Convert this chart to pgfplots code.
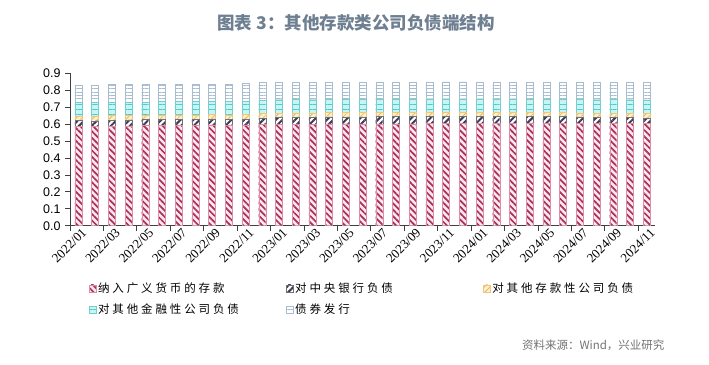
\documentclass[border=0pt]{standalone}
\usepackage{pgfplots}
\pgfplotsset{compat=1.18}
\usepackage{pgfplotstable}
\usepackage{fontspec}
\usetikzlibrary{patterns.meta}
\setmainfont{Liberation Sans}
\newfontfamily\cjk{Noto Sans CJK SC}
\newfontfamily\cjkleg[LetterSpace=25]{Noto Sans CJK SC}
\newfontfamily\timesf{Liberation Serif}
\definecolor{redS}{HTML}{A8325A}
\definecolor{redF}{HTML}{FCE8EE}
\definecolor{redE}{HTML}{E08CA8}
\definecolor{navS}{HTML}{3C3C50}
\definecolor{navE}{HTML}{707080}
\definecolor{yelS}{HTML}{E8B860}
\definecolor{yelF}{HTML}{FDF0CC}
\definecolor{yelE}{HTML}{EEC878}
\definecolor{cyaS}{HTML}{50C8C8}
\definecolor{cyaF}{HTML}{C8F4F4}
\definecolor{cyaE}{HTML}{70D0D0}
\definecolor{bonS}{HTML}{A8BCD0}
\definecolor{titleC}{HTML}{6E7F91}
\pgfplotstableread{
idx red navy yel cyan bond
0 0.588 0.034 0.027 0.080 0.103
1 0.585 0.035 0.027 0.080 0.105
2 0.590 0.034 0.026 0.079 0.104
3 0.590 0.035 0.026 0.080 0.103
4 0.592 0.034 0.026 0.078 0.103
5 0.593 0.035 0.027 0.080 0.102
6 0.593 0.036 0.026 0.080 0.103
7 0.594 0.035 0.026 0.080 0.102
8 0.595 0.036 0.027 0.079 0.101
9 0.594 0.035 0.026 0.079 0.102
10 0.595 0.036 0.026 0.080 0.102
11 0.597 0.037 0.028 0.080 0.103
12 0.598 0.040 0.027 0.079 0.102
13 0.600 0.041 0.026 0.079 0.101
14 0.600 0.040 0.026 0.078 0.101
15 0.601 0.041 0.026 0.078 0.102
16 0.602 0.041 0.025 0.078 0.101
17 0.601 0.042 0.026 0.078 0.100
18 0.602 0.042 0.025 0.077 0.100
19 0.601 0.043 0.026 0.077 0.100
20 0.602 0.044 0.025 0.077 0.099
21 0.603 0.044 0.025 0.078 0.098
22 0.603 0.044 0.025 0.078 0.099
23 0.604 0.043 0.025 0.078 0.099
24 0.605 0.042 0.025 0.078 0.098
25 0.603 0.043 0.025 0.078 0.099
26 0.604 0.042 0.025 0.079 0.098
27 0.603 0.042 0.024 0.079 0.099
28 0.604 0.040 0.024 0.078 0.099
29 0.605 0.039 0.025 0.079 0.099
30 0.605 0.037 0.025 0.079 0.100
31 0.604 0.036 0.024 0.080 0.101
32 0.604 0.035 0.025 0.081 0.102
33 0.605 0.034 0.025 0.080 0.102
34 0.605 0.032 0.025 0.081 0.103
}\datatable
\begin{document}
\begin{tikzpicture}[x=1bp,y=1bp]
\path[use as bounding box] (0,0) rectangle (709,364);
\node[font=\cjk\bfseries\fontsize{17.5bp}{19bp}\selectfont, text=titleC] at (356,341) {图表 3：其他存款类公司负债端结构};
\node[font=\cjk\fontsize{11.5bp}{13bp}\selectfont, text=black!55, anchor=east] at (668,19) {资料来源：Wind，兴业研究};
\begin{axis}[
  at={(70bp,138.3bp)}, anchor=south west,
  scale only axis, width=585bp, height=152.4bp,
  xmin=-0.5, xmax=34.5, ymin=0, ymax=0.9,
  ybar stacked, bar width=7bp,
  axis x line*=bottom, axis y line*=left,
  axis line style={black!75, line width=0.8bp},
  tick style={black!75, line width=0.8bp},
  tick align=outside, major tick length=5bp,
  ytick={0,0.1,0.2,0.3,0.4,0.5,0.6,0.7,0.8,0.9},
  yticklabel style={/pgf/number format/fixed, /pgf/number format/precision=1, /pgf/number format/fixed zerofill, /pgf/number format/assume math mode=true, font=\fontsize{12.5bp}{14bp}\selectfont, xshift=-1bp},
  xtick={-0.5,1.5,...,33.5}, xticklabels={},
  extra x ticks={0,2,...,34},
  extra x tick labels={2022/01,2022/03,2022/05,2022/07,2022/09,2022/11,2023/01,2023/03,2023/05,2023/07,2023/09,2023/11,2024/01,2024/03,2024/05,2024/07,2024/09,2024/11},
  extra x tick style={major tick length=0pt, tick label style={font=\timesf\fontsize{13bp}{14bp}\selectfont, rotate=45, anchor=north east, inner sep=1bp, yshift=-2bp, xshift=2bp}},
  legend columns=3,
  legend cell align=left,
  legend style={draw=none, fill=none, at={(axis description cs:0.027,-0.35)}, anchor=north west, font=\cjkleg\fontsize{11.5bp}{13bp}\selectfont, row sep=7bp, nodes={text width=186.5bp, inner sep=1.5bp, align=left}},
  legend image code/.code={\draw[#1, line width=0.6bp] (0bp,-3.5bp) rectangle (7bp,3.5bp);},
]
\addplot[draw=redE, fill=redF, postaction={pattern={Lines[angle=-45,distance=4.5bp,line width=1.7bp]}, pattern color=redS}] table[x=idx,y=red]{\datatable};
\addlegendentry{纳入广义货币的存款}
\addplot[draw=navE, fill=white, postaction={pattern={Lines[angle=45,distance=4.5bp,line width=2bp]}, pattern color=navS}] table[x=idx,y=navy]{\datatable};
\addlegendentry{对中央银行负债}
\addplot[draw=yelE, fill=yelF, postaction={pattern={Lines[angle=45,distance=4bp,line width=0.8bp]}, pattern color=yelS}] table[x=idx,y=yel]{\datatable};
\addlegendentry{对其他存款性公司负债}
\addplot[draw=cyaE, fill=cyaF, postaction={pattern={Lines[angle=0,distance=5bp,line width=0.7bp]}, pattern color=cyaS}] table[x=idx,y=cyan]{\datatable};
\addlegendentry{对其他金融性公司负债}
\addplot[draw=bonS, fill=white, postaction={pattern={Lines[angle=0,distance=3.4bp,line width=0.7bp]}, pattern color=bonS}] table[x=idx,y=bond]{\datatable};
\addlegendentry{债券发行}
\end{axis}
\end{tikzpicture}
\end{document}
